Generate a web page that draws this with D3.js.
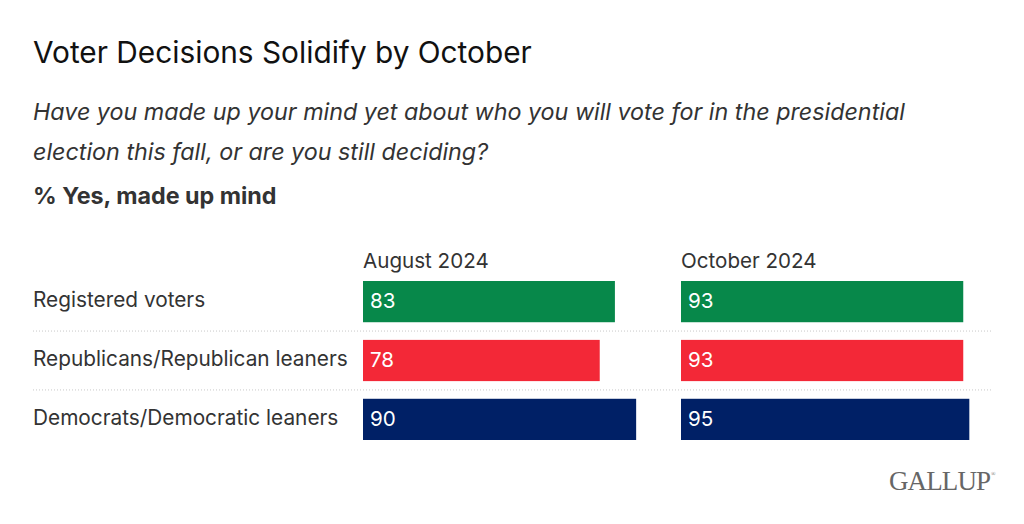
<!DOCTYPE html>
<html>
<head>
<meta charset="utf-8">
<script src="https://cdn.jsdelivr.net/npm/d3@7"></script>
<style>
  body { margin: 0; background: #fff; }
  text { font-family: Inter, "Noto Sans", sans-serif; }
</style>
</head>
<body>
<svg id="chart"></svg>
<script>
// data
const groups = ["Registered voters", "Republicans/Republican leaners", "Democrats/Democratic leaners"];
const periods = ["August 2024", "October 2024"];
const august = [83, 78, 90];
const october = [93, 93, 95];
const colors = ["#07884a", "#f32837", "#002066"];

let width = 1024;
let height = 524;

let svg = d3.select('#chart')
    .attr('width', width)
    .attr('height', height);

// titles
svg.append('text')
    .text('Voter Decisions Solidify by October')
    .attr('x', 33).attr('y', 63)
    .attr('font-size', 29.8)
    .attr('fill', '#111');

let sub = ['Have you made up your mind yet about who you will vote for in the presidential',
           'election this fall, or are you still deciding?'];
sub.forEach((s, i) => {
    svg.append('text')
        .text(s)
        .attr('x', 33).attr('y', 120 + i * 40)
        .attr('font-size', 23.3)
        .attr('font-style', 'italic')
        .attr('fill', '#333');
});

svg.append('text')
    .text('% Yes, made up mind')
    .attr('x', 33).attr('y', 204)
    .attr('font-size', 23.3)
    .attr('font-weight', 'bold')
    .attr('fill', '#333');

// rows
let yScale = d3.scaleBand()
    .domain(groups)
    .range([281, 440])
    .paddingInner(0.3)
    .paddingOuter(0);

let panels = [
    {name: periods[0], values: august, x0: 363},
    {name: periods[1], values: october, x0: 681}
];

// dotted separators
groups.slice(1).forEach(g => {
    let y = yScale(g) - (yScale.step() - yScale.bandwidth()) / 2;
    svg.append('line')
        .attr('x1', 33).attr('x2', 992)
        .attr('y1', y).attr('y2', y)
        .attr('stroke', '#c8c8c8')
        .attr('stroke-width', 1)
        .attr('stroke-dasharray', '1,2');
});

// row labels
svg.selectAll('.rowlabel')
    .data(groups)
    .enter().append('text')
    .attr('class', 'rowlabel')
    .text(d => d)
    .attr('x', 33)
    .attr('y', d => yScale(d) + yScale.bandwidth() / 2 - 2)
    .attr('dy', '0.35em')
    .attr('font-size', 20.8)
    .attr('fill', '#333');

panels.forEach(p => {
    let xScale = d3.scaleLinear()
        .domain([0, 100])
        .range([p.x0, p.x0 + 303.5]);

    svg.append('text')
        .text(p.name)
        .attr('x', p.x0).attr('y', 268)
        .attr('font-size', 20.6)
        .attr('fill', '#333');

    let g = svg.append('g');
    g.selectAll('rect')
        .data(p.values)
        .enter().append('rect')
        .attr('x', xScale(0))
        .attr('y', (d, i) => yScale(groups[i]))
        .attr('width', d => xScale(d) - xScale(0))
        .attr('height', yScale.bandwidth())
        .attr('fill', (d, i) => colors[i]);

    g.selectAll('.val')
        .data(p.values)
        .enter().append('text')
        .attr('class', 'val')
        .text(d => d)
        .attr('x', xScale(0) + 7)
        .attr('y', (d, i) => yScale(groups[i]) + yScale.bandwidth() / 2 - 1)
        .attr('dy', '0.35em')
        .attr('font-size', 20.6)
        .attr('fill', '#fff');
});

// logo
let logo = svg.append('text')
    .attr('x', 889).attr('y', 490)
    .attr('fill', '#666')
    .style('font-family', '"Liberation Serif", serif')
    .attr('font-size', 27)
    .attr('letter-spacing', -0.9);
logo.append('tspan').text('GALLUP');
logo.append('tspan').text('®').attr('font-size', 6).attr('dy', -14).attr('dx', 1);
</script>
</body>
</html>
